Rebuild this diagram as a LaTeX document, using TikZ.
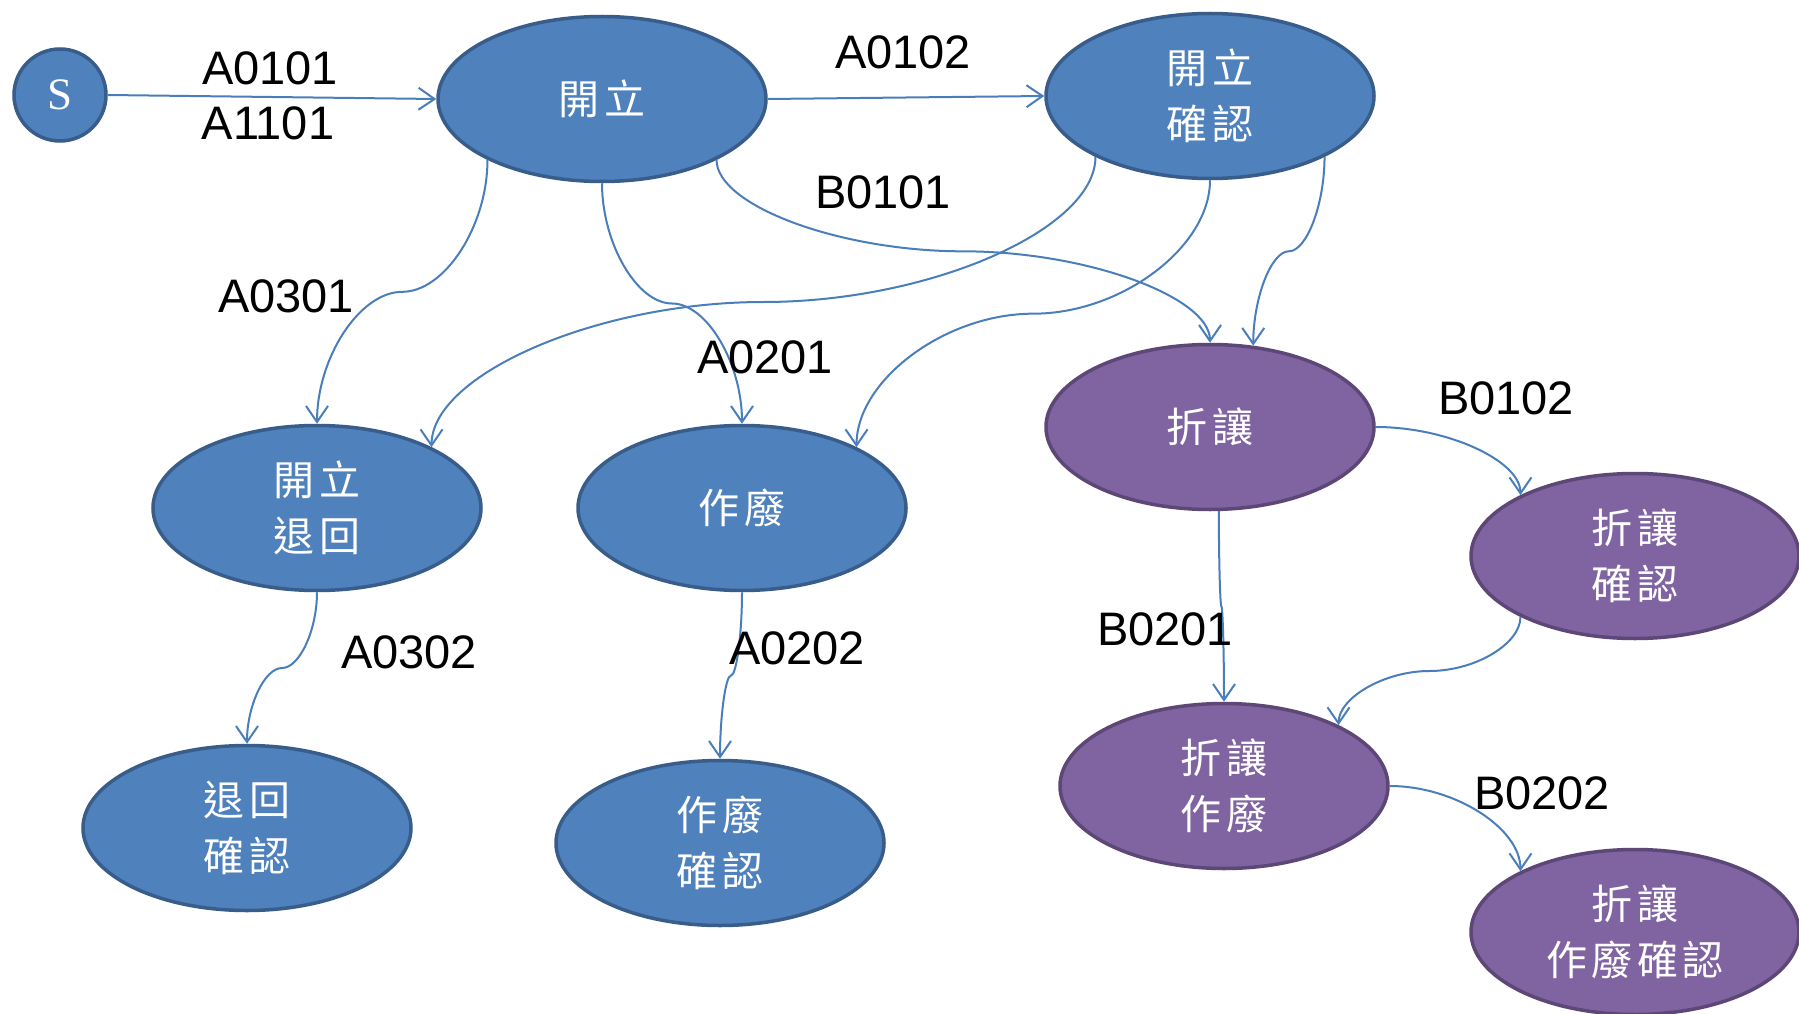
\documentclass[tikz,border=0pt]{standalone}
\usepackage{fontspec}
\setmainfont{Liberation Sans}
\newfontfamily\cjkf[LetterSpace=10]{Noto Sans CJK TC}
\newfontfamily\serf{Liberation Serif}
\usetikzlibrary{shapes.geometric,arrows.meta,calc}
\definecolor{bfill}{HTML}{4F81BD}
\definecolor{bline}{HTML}{385D8A}
\definecolor{pfill}{HTML}{8064A2}
\definecolor{pline}{HTML}{5C4776}
\definecolor{edgec}{HTML}{4A7EBB}
\begin{document}
\begin{tikzpicture}[x=1pt,y=-1pt,
 st/.style={ellipse, minimum width=328pt, minimum height=165pt, inner sep=0pt, line width=3.5pt, text=white, align=center, font=\cjkf\fontsize{41}{56}\selectfont},
 bst/.style={st, fill=bfill, draw=bline},
 pst/.style={st, fill=pfill, draw=pline},
 lab/.style={inner sep=0pt, font=\fontsize{47}{50}\selectfont, text=black},
 conn/.style={draw=edgec, line width=2pt, -{Straight Barb[length=16pt,width=22pt]}},
 vv/.style={to path={let \p1=(\tikztostart), \p2=(\tikztotarget) in .. controls (\x1,{0.75*\y1+0.25*\y2}) and ({0.75*\x1+0.25*\x2},{0.5*\y1+0.5*\y2}) .. ({0.5*\x1+0.5*\x2},{0.5*\y1+0.5*\y2}) .. controls ({0.25*\x1+0.75*\x2},{0.5*\y1+0.5*\y2}) and (\x2,{0.25*\y1+0.75*\y2}) .. (\tikztotarget) \tikztonodes}},
 hv/.style={to path={let \p1=(\tikztostart), \p2=(\tikztotarget) in .. controls ({0.5*\x1+0.5*\x2},\y1) and (\x2,{0.5*\y1+0.5*\y2}) .. (\tikztotarget) \tikztonodes}}
]
\useasboundingbox (0,0) rectangle (1799,1014);
\fill[white] (0,0) rectangle (1799,1014);

\node[circle, minimum size=92pt, inner sep=0pt, fill=bfill, draw=bline, line width=3.5pt, text=white, font=\serf\fontsize{45}{50}\selectfont] (S) at (60,95) {S};
\node[bst] (kl) at (602,99) {開立};
\node[bst] (kqr) at (1210,96) {開立\\確認};
\node[pst] (zr) at (1210,427) {折讓};
\node[pst] (zqr) at (1635,556) {折讓\\確認};
\node[bst] (kth) at (317,508) {開立\\退回};
\node[bst] (zf) at (742,508) {作廢};
\node[bst] (thqr) at (247,828) {退回\\確認};
\node[bst] (zfqr) at (720,843) {作廢\\確認};
\node[pst] (zrzf) at (1224,786) {折讓\\作廢};
\node[pst] (zrzfqr) at (1635,932) {折讓\\作廢確認};

\draw[conn] (S.east) -- (kl.west);
\draw[conn] (kl.east) -- (kqr.west);
\draw[conn,vv] (kl.-28) to (zr.north);
\draw[conn,vv] (kqr.-152) to (kth.28);
\draw[conn,vv] (kl.-152) to (kth.north);
\draw[conn,vv] (kl.south) to (zf.north);
\draw[conn,vv] (kqr.south) to (zf.28);
\draw[conn,vv] (kqr.-28) to (zr.62);
\draw[conn,hv] (zr.east) to (zqr.152);
\draw[conn,vv] (zr.-84) to (zrzf.north);
\draw[conn,vv] (zqr.-152) to (zrzf.28);
\draw[conn,hv] (zrzf.east) to (zrzfqr.152);
\draw[conn,vv] (kth.south) to (thqr.north);
\draw[conn,vv] (zf.south) to (zfqr.north);

\node[lab] (l1) at (270,68) {A0101};
\node[lab] (l2) at (268,123) {A1101};
\node[lab] (l3) at (903,52) {A0102};
\node[lab] (l4) at (883,192) {B0101};
\node[lab] (l5) at (286,296) {A0301};
\node[lab] (l6) at (765,357) {A0201};
\node[lab] (l7) at (1506,398) {B0102};
\node[lab] (l8) at (1165,629) {B0201};
\node[lab] (l9) at (409,652) {A0302};
\node[lab] (l10) at (797,648) {A0202};
\node[lab] (l11) at (1542,793) {B0202};
\end{tikzpicture}
\end{document}
